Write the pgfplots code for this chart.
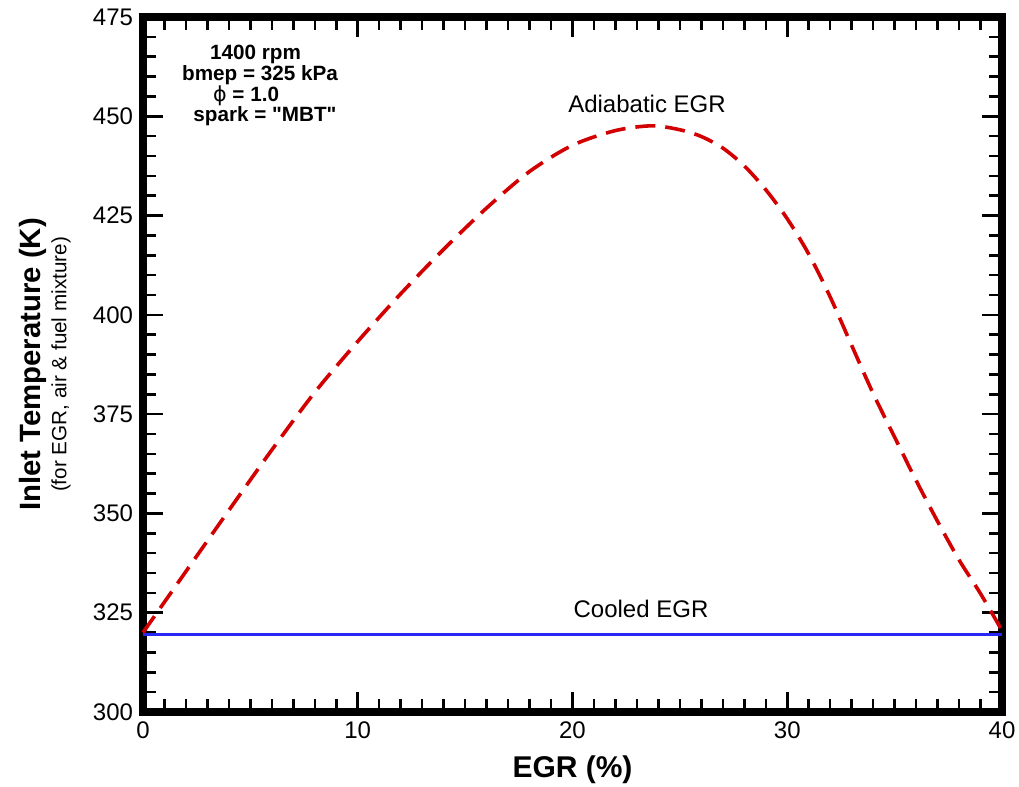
\documentclass[border=0pt]{standalone}
\usepackage{pgfplots}
\pgfplotsset{compat=1.18}
\usepackage{fontspec}
\setmainfont{Liberation Sans}
\newfontfamily\plainfont{Liberation Sans}[Ligatures=TeXOff]
\newfontfamily\dejavu{DejaVu Sans}
\definecolor{cRed}{RGB}{210,0,0}
\definecolor{cBlue}{RGB}{40,40,245}
\begin{document}
\begin{tikzpicture}
\begin{axis}[
  name=ax,
  scale only axis,
  width=644.25pt, height=521.25pt,
  xmin=0, xmax=40, ymin=300, ymax=475,
  xtick={0,10,20,30,40},
  ytick={300,325,350,375,400,425,450,475},
  minor x tick num=9,
  minor y tick num=4,
  tick align=inside,
  xtick pos=both, ytick pos=both,
  major tick length=15pt,
  minor tick length=9.75pt,
  major tick style={line width=1.9pt, black},
  minor tick style={line width=1.9pt, black},
  axis line style={line width=5.6pt, line join=miter},
  /pgf/number format/assume math mode=true,
  ticklabel style={font=\fontsize{18}{18}\selectfont},
  yticklabel style={xshift=-4pt},
  xticklabel style={yshift=-3.5pt},
  xlabel={\bfseries EGR (\%)},
  xlabel style={font=\fontsize{22.5}{22.5}\selectfont, at={(axis description cs:0.5,-0.0835)}, anchor=center},
  clip=false,
]
\addplot[cBlue, line width=2.4pt] coordinates {(0,319.5) (40,319.5)};
\addplot[cRed, line width=2.7pt, smooth, dash pattern=on 15pt off 7.5pt] coordinates {
(0,320) (2,335.4) (4,350.8) (6,366) (8,380.5) (10,393.3) (12,405.3) (14,416.5)
(16,426.9) (18,436.1) (20,442.7) (22,446.4) (23.7,447.6) (25,446.6) (26,444.9)
(27,442.0) (28,437.5) (29,431.5) (30,424.2) (31,415.3) (32,404.5) (33,392.3)
(34,380.2) (35,369.2) (36,358.3) (37,348.0) (38,338.3) (39,329.8) (40,320.5)};
\node[font=\fontsize{18}{18}\selectfont] at (axis cs:23.47,453.1) {Adiabatic EGR};
\node[font=\fontsize{18}{18}\selectfont] at (axis cs:23.19,325.9) {Cooled EGR};
\node[inner sep=0pt, font=\fontsize{15.5}{15.5}\selectfont\bfseries, anchor=base] at (axis cs:5.24,464.3) {1400 rpm};
\node[inner sep=0pt, font=\fontsize{15.5}{15.5}\selectfont\bfseries, anchor=base] at (axis cs:5.45,459.0) {bmep = 325 kPa};
\node[inner sep=0pt, font=\fontsize{15.5}{15.5}\selectfont\bfseries, anchor=base] at (axis cs:4.8,453.8) {{\dejavu\mdseries ϕ} = 1.0};
\node[inner sep=0pt, font=\fontsize{15.5}{15.5}\selectfont\bfseries, anchor=base] at (axis cs:5.68,448.7) {{\plainfont\bfseries spark = "MBT"}};
\node[rotate=90, font=\fontsize{22}{22}\selectfont\bfseries] at (rel axis cs:-0.128,0.5) {Inlet Temperature (K)};
\node[rotate=90, font=\fontsize{15.5}{15.5}\selectfont] at (rel axis cs:-0.0955,0.5) {(for EGR, air \& fuel mixture)};
\end{axis}
\pgfresetboundingbox
\path[use as bounding box] ([shift={(-107.25pt,-55.5pt)}]ax.south west) rectangle ([shift={(12.75pt,12.75pt)}]ax.north east);
\end{tikzpicture}
\end{document}
